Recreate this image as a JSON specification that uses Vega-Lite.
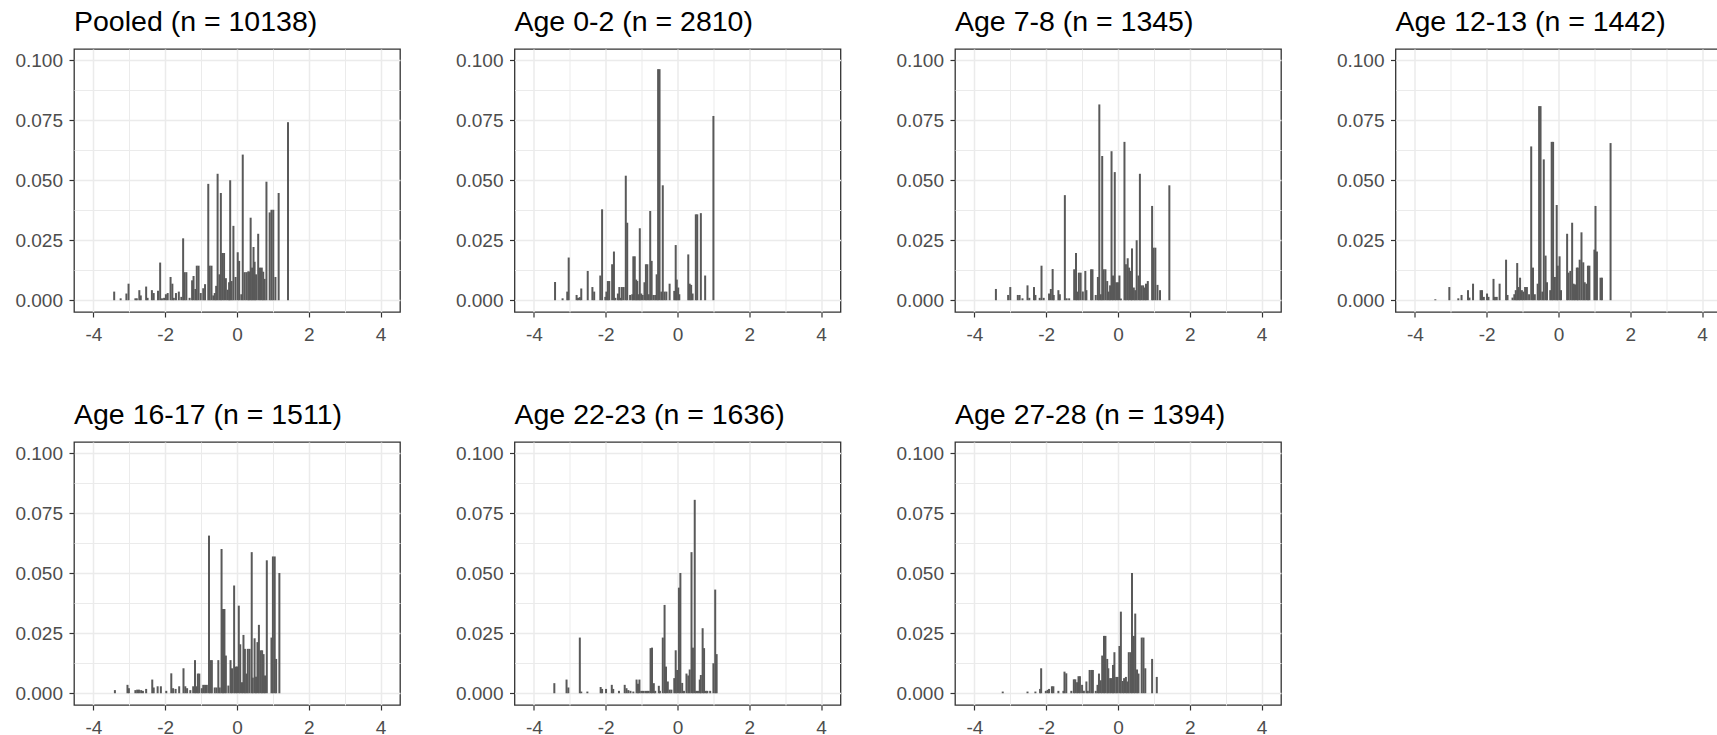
{
"$schema": "https://vega.github.io/schema/vega-lite/v6.json",
"background": "white",
"padding": {"left": 14, "top": 6, "right": 0, "bottom": 0},
"datasets": {
"panels": [
{"k":1,"title":"Pooled (n = 10138)"},{"k":2,"title":"Age 0-2 (n = 2810)"},{"k":3,"title":"Age 7-8 (n = 1345)"},{"k":4,"title":"Age 12-13 (n = 1442)"},{"k":5,"title":"Age 16-17 (n = 1511)"},{"k":6,"title":"Age 22-23 (n = 1636)"},{"k":7,"title":"Age 27-28 (n = 1394)"}
],
"bars": [
{"k":1,"x":-3.42,"y":0.0036},{"k":1,"x":-3.24,"y":0.0008},{"k":1,"x":-3.08,"y":0.0028},{"k":1,"x":-3.02,"y":0.0069},{"k":1,"x":-2.83,"y":0.0008},{"k":1,"x":-2.79,"y":0.0008},{"k":1,"x":-2.72,"y":0.0042},{"k":1,"x":-2.68,"y":0.002},{"k":1,"x":-2.53,"y":0.0057},{"k":1,"x":-2.49,"y":0.001},{"k":1,"x":-2.37,"y":0.0042},{"k":1,"x":-2.32,"y":0.003},{"k":1,"x":-2.2,"y":0.004},{"k":1,"x":-2.14,"y":0.0157},{"k":1,"x":-2.09,"y":0.0008},{"k":1,"x":-2.03,"y":0.001},{"k":1,"x":-1.98,"y":0.0025},{"k":1,"x":-1.93,"y":0.003},{"k":1,"x":-1.85,"y":0.0097},{"k":1,"x":-1.8,"y":0.0069},{"k":1,"x":-1.76,"y":0.001},{"k":1,"x":-1.7,"y":0.003},{"k":1,"x":-1.62,"y":0.0036},{"k":1,"x":-1.55,"y":0.0014},{"k":1,"x":-1.5,"y":0.0258},{"k":1,"x":-1.46,"y":0.0117},{"k":1,"x":-1.41,"y":0.0117},{"k":1,"x":-1.32,"y":0.001},{"k":1,"x":-1.25,"y":0.0083},{"k":1,"x":-1.21,"y":0.0101},{"k":1,"x":-1.16,"y":0.0047},{"k":1,"x":-1.12,"y":0.0144},{"k":1,"x":-1.07,"y":0.0144},{"k":1,"x":-1.01,"y":0.003},{"k":1,"x":-0.94,"y":0.005},{"k":1,"x":-0.89,"y":0.0067},{"k":1,"x":-0.8,"y":0.0485},{"k":1,"x":-0.76,"y":0.0144},{"k":1,"x":-0.71,"y":0.0144},{"k":1,"x":-0.66,"y":0.002},{"k":1,"x":-0.62,"y":0.003},{"k":1,"x":-0.58,"y":0.006},{"k":1,"x":-0.54,"y":0.0527},{"k":1,"x":-0.49,"y":0.0108},{"k":1,"x":-0.45,"y":0.0447},{"k":1,"x":-0.41,"y":0.0197},{"k":1,"x":-0.36,"y":0.0197},{"k":1,"x":-0.31,"y":0.0092},{"k":1,"x":-0.26,"y":0.0044},{"k":1,"x":-0.22,"y":0.0075},{"k":1,"x":-0.19,"y":0.05},{"k":1,"x":-0.15,"y":0.008},{"k":1,"x":-0.1,"y":0.031},{"k":1,"x":-0.04,"y":0.0097},{"k":1,"x":0.02,"y":0.02},{"k":1,"x":0.06,"y":0.0164},{"k":1,"x":0.12,"y":0.0025},{"k":1,"x":0.16,"y":0.0607},{"k":1,"x":0.21,"y":0.0117},{"k":1,"x":0.26,"y":0.0117},{"k":1,"x":0.31,"y":0.012},{"k":1,"x":0.34,"y":0.012},{"k":1,"x":0.38,"y":0.0344},{"k":1,"x":0.42,"y":0.0136},{"k":1,"x":0.46,"y":0.0222},{"k":1,"x":0.49,"y":0.016},{"k":1,"x":0.53,"y":0.0108},{"k":1,"x":0.59,"y":0.0277},{"k":1,"x":0.64,"y":0.0136},{"k":1,"x":0.69,"y":0.0136},{"k":1,"x":0.73,"y":0.0119},{"k":1,"x":0.77,"y":0.0089},{"k":1,"x":0.82,"y":0.0494},{"k":1,"x":0.91,"y":0.0366},{"k":1,"x":0.96,"y":0.0377},{"k":1,"x":1.01,"y":0.0377},{"k":1,"x":1.07,"y":0.0097},{"k":1,"x":1.16,"y":0.0447},{"k":1,"x":1.42,"y":0.0742},
{"k":2,"x":-3.41,"y":0.0076},{"k":2,"x":-3.2,"y":0.0008},{"k":2,"x":-3.07,"y":0.0036},{"k":2,"x":-3.03,"y":0.0178},{"k":2,"x":-2.81,"y":0.0022},{"k":2,"x":-2.77,"y":0.001},{"k":2,"x":-2.72,"y":0.0013},{"k":2,"x":-2.68,"y":0.0049},{"k":2,"x":-2.5,"y":0.0122},{"k":2,"x":-2.37,"y":0.0055},{"k":2,"x":-2.32,"y":0.0036},{"k":2,"x":-2.15,"y":0.0103},{"k":2,"x":-2.1,"y":0.0379},{"k":2,"x":-2.01,"y":0.0014},{"k":2,"x":-1.98,"y":0.0036},{"k":2,"x":-1.94,"y":0.008},{"k":2,"x":-1.9,"y":0.008},{"k":2,"x":-1.82,"y":0.015},{"k":2,"x":-1.77,"y":0.0203},{"k":2,"x":-1.73,"y":0.001},{"k":2,"x":-1.66,"y":0.0028},{"k":2,"x":-1.62,"y":0.0055},{"k":2,"x":-1.58,"y":0.001},{"k":2,"x":-1.55,"y":0.0055},{"k":2,"x":-1.5,"y":0.0055},{"k":2,"x":-1.44,"y":0.0519},{"k":2,"x":-1.4,"y":0.0323},{"k":2,"x":-1.32,"y":0.0022},{"k":2,"x":-1.26,"y":0.0025},{"k":2,"x":-1.23,"y":0.0183},{"k":2,"x":-1.19,"y":0.0183},{"k":2,"x":-1.15,"y":0.0086},{"k":2,"x":-1.12,"y":0.008},{"k":2,"x":-1.08,"y":0.0025},{"k":2,"x":-1.05,"y":0.03},{"k":2,"x":-1.01,"y":0.0028},{"k":2,"x":-0.97,"y":0.0022},{"k":2,"x":-0.92,"y":0.0075},{"k":2,"x":-0.88,"y":0.015},{"k":2,"x":-0.84,"y":0.015},{"k":2,"x":-0.8,"y":0.0025},{"k":2,"x":-0.76,"y":0.0372},{"k":2,"x":-0.72,"y":0.0164},{"k":2,"x":-0.67,"y":0.0022},{"k":2,"x":-0.62,"y":0.0022},{"k":2,"x":-0.58,"y":0.0108},{"k":2,"x":-0.54,"y":0.0963},{"k":2,"x":-0.5,"y":0.0963},{"k":2,"x":-0.45,"y":0.0036},{"k":2,"x":-0.41,"y":0.0479},{"k":2,"x":-0.36,"y":0.0036},{"k":2,"x":-0.31,"y":0.0036},{"k":2,"x":-0.22,"y":0.0069},{"k":2,"x":-0.09,"y":0.0039},{"k":2,"x":-0.05,"y":0.023},{"k":2,"x":-0.02,"y":0.0086},{"k":2,"x":0.02,"y":0.0053},{"k":2,"x":0.05,"y":0.0025},{"k":2,"x":0.3,"y":0.0191},{"k":2,"x":0.34,"y":0.0069},{"k":2,"x":0.38,"y":0.0064},{"k":2,"x":0.42,"y":0.0028},{"k":2,"x":0.51,"y":0.0358},{"k":2,"x":0.55,"y":0.0358},{"k":2,"x":0.65,"y":0.0363},{"k":2,"x":0.77,"y":0.0103},{"k":2,"x":1.0,"y":0.0768},
{"k":3,"x":-3.4,"y":0.0047},{"k":3,"x":-3.06,"y":0.0022},{"k":3,"x":-3.0,"y":0.0055},{"k":3,"x":-2.79,"y":0.0022},{"k":3,"x":-2.74,"y":0.0022},{"k":3,"x":-2.66,"y":0.0008},{"k":3,"x":-2.52,"y":0.0062},{"k":3,"x":-2.47,"y":0.001},{"k":3,"x":-2.34,"y":0.0055},{"k":3,"x":-2.3,"y":0.0022},{"k":3,"x":-2.18,"y":0.001},{"k":3,"x":-2.13,"y":0.0144},{"k":3,"x":-2.07,"y":0.001},{"k":3,"x":-1.92,"y":0.0028},{"k":3,"x":-1.87,"y":0.0047},{"k":3,"x":-1.82,"y":0.013},{"k":3,"x":-1.79,"y":0.0022},{"k":3,"x":-1.66,"y":0.0042},{"k":3,"x":-1.62,"y":0.0025},{"k":3,"x":-1.48,"y":0.0438},{"k":3,"x":-1.43,"y":0.0008},{"k":3,"x":-1.36,"y":0.0008},{"k":3,"x":-1.22,"y":0.0129},{"k":3,"x":-1.17,"y":0.0197},{"k":3,"x":-1.13,"y":0.0036},{"k":3,"x":-1.09,"y":0.0115},{"k":3,"x":-1.04,"y":0.0115},{"k":3,"x":-0.98,"y":0.0036},{"k":3,"x":-0.91,"y":0.0122},{"k":3,"x":-0.88,"y":0.0042},{"k":3,"x":-0.75,"y":0.0129},{"k":3,"x":-0.71,"y":0.0129},{"k":3,"x":-0.62,"y":0.0022},{"k":3,"x":-0.56,"y":0.0097},{"k":3,"x":-0.52,"y":0.0816},{"k":3,"x":-0.48,"y":0.0025},{"k":3,"x":-0.44,"y":0.0601},{"k":3,"x":-0.4,"y":0.0129},{"k":3,"x":-0.35,"y":0.0129},{"k":3,"x":-0.3,"y":0.008},{"k":3,"x":-0.26,"y":0.0036},{"k":3,"x":-0.22,"y":0.0062},{"k":3,"x":-0.18,"y":0.0621},{"k":3,"x":-0.14,"y":0.0103},{"k":3,"x":-0.09,"y":0.0534},{"k":3,"x":-0.05,"y":0.0075},{"k":3,"x":0.0,"y":0.0075},{"k":3,"x":0.04,"y":0.0103},{"k":3,"x":0.08,"y":0.0007},{"k":3,"x":0.18,"y":0.066},{"k":3,"x":0.22,"y":0.015},{"k":3,"x":0.27,"y":0.0175},{"k":3,"x":0.31,"y":0.0136},{"k":3,"x":0.36,"y":0.0122},{"k":3,"x":0.39,"y":0.0216},{"k":3,"x":0.44,"y":0.0053},{"k":3,"x":0.48,"y":0.0042},{"k":3,"x":0.52,"y":0.025},{"k":3,"x":0.57,"y":0.0103},{"k":3,"x":0.61,"y":0.0527},{"k":3,"x":0.65,"y":0.0062},{"k":3,"x":0.7,"y":0.0062},{"k":3,"x":0.74,"y":0.0053},{"k":3,"x":0.78,"y":0.0069},{"k":3,"x":0.83,"y":0.008},{"k":3,"x":0.95,"y":0.0393},{"k":3,"x":0.99,"y":0.0219},{"k":3,"x":1.04,"y":0.0219},{"k":3,"x":1.1,"y":0.0064},{"k":3,"x":1.17,"y":0.0042},{"k":3,"x":1.43,"y":0.0479},
{"k":4,"x":-3.43,"y":0.0004},{"k":4,"x":-3.04,"y":0.0055},{"k":4,"x":-2.79,"y":0.0008},{"k":4,"x":-2.7,"y":0.0022},{"k":4,"x":-2.52,"y":0.0042},{"k":4,"x":-2.48,"y":0.0011},{"k":4,"x":-2.38,"y":0.0069},{"k":4,"x":-2.17,"y":0.0042},{"k":4,"x":-2.13,"y":0.0042},{"k":4,"x":-2.08,"y":0.0014},{"k":4,"x":-1.99,"y":0.0028},{"k":4,"x":-1.95,"y":0.0014},{"k":4,"x":-1.81,"y":0.0089},{"k":4,"x":-1.77,"y":0.0014},{"k":4,"x":-1.72,"y":0.0014},{"k":4,"x":-1.64,"y":0.0069},{"k":4,"x":-1.46,"y":0.0169},{"k":4,"x":-1.42,"y":0.0022},{"k":4,"x":-1.28,"y":0.0011},{"k":4,"x":-1.23,"y":0.0025},{"k":4,"x":-1.19,"y":0.0042},{"k":4,"x":-1.15,"y":0.0155},{"k":4,"x":-1.11,"y":0.0055},{"k":4,"x":-1.07,"y":0.0094},{"k":4,"x":-1.02,"y":0.0042},{"k":4,"x":-0.98,"y":0.0036},{"k":4,"x":-0.93,"y":0.0055},{"k":4,"x":-0.88,"y":0.0055},{"k":4,"x":-0.82,"y":0.0025},{"k":4,"x":-0.76,"y":0.0641},{"k":4,"x":-0.71,"y":0.0136},{"k":4,"x":-0.66,"y":0.0025},{"k":4,"x":-0.58,"y":0.0069},{"k":4,"x":-0.54,"y":0.0809},{"k":4,"x":-0.5,"y":0.0809},{"k":4,"x":-0.45,"y":0.0036},{"k":4,"x":-0.41,"y":0.0587},{"k":4,"x":-0.36,"y":0.0186},{"k":4,"x":-0.32,"y":0.0075},{"k":4,"x":-0.23,"y":0.0042},{"k":4,"x":-0.19,"y":0.066},{"k":4,"x":-0.15,"y":0.066},{"k":4,"x":-0.1,"y":0.0097},{"k":4,"x":-0.05,"y":0.0397},{"k":4,"x":-0.02,"y":0.0144},{"k":4,"x":0.03,"y":0.0183},{"k":4,"x":0.07,"y":0.0042},{"k":4,"x":0.24,"y":0.0277},{"k":4,"x":0.28,"y":0.0115},{"k":4,"x":0.33,"y":0.0122},{"k":4,"x":0.38,"y":0.0323},{"k":4,"x":0.42,"y":0.0069},{"k":4,"x":0.46,"y":0.0066},{"k":4,"x":0.51,"y":0.0136},{"k":4,"x":0.54,"y":0.0136},{"k":4,"x":0.59,"y":0.0169},{"k":4,"x":0.64,"y":0.0283},{"k":4,"x":0.69,"y":0.0158},{"k":4,"x":0.73,"y":0.0075},{"k":4,"x":0.78,"y":0.0069},{"k":4,"x":0.82,"y":0.0144},{"k":4,"x":0.86,"y":0.0144},{"k":4,"x":1.0,"y":0.0211},{"k":4,"x":1.03,"y":0.0393},{"k":4,"x":1.07,"y":0.0203},{"k":4,"x":1.17,"y":0.0094},{"k":4,"x":1.21,"y":0.0094},{"k":4,"x":1.45,"y":0.0655},
{"k":5,"x":-3.4,"y":0.0013},{"k":5,"x":-3.05,"y":0.0035},{"k":5,"x":-3.01,"y":0.0021},{"k":5,"x":-2.83,"y":0.0013},{"k":5,"x":-2.78,"y":0.0015},{"k":5,"x":-2.73,"y":0.0015},{"k":5,"x":-2.67,"y":0.0013},{"k":5,"x":-2.62,"y":0.001},{"k":5,"x":-2.53,"y":0.0018},{"k":5,"x":-2.36,"y":0.0057},{"k":5,"x":-2.32,"y":0.0024},{"k":5,"x":-2.21,"y":0.0029},{"k":5,"x":-2.12,"y":0.0029},{"k":5,"x":-1.97,"y":0.001},{"k":5,"x":-1.83,"y":0.0083},{"k":5,"x":-1.78,"y":0.0021},{"k":5,"x":-1.71,"y":0.0018},{"k":5,"x":-1.61,"y":0.0029},{"k":5,"x":-1.49,"y":0.0104},{"k":5,"x":-1.44,"y":0.0029},{"k":5,"x":-1.39,"y":0.0021},{"k":5,"x":-1.3,"y":0.0013},{"k":5,"x":-1.22,"y":0.0029},{"k":5,"x":-1.17,"y":0.0138},{"k":5,"x":-1.13,"y":0.0029},{"k":5,"x":-1.09,"y":0.0082},{"k":5,"x":-1.05,"y":0.0082},{"k":5,"x":-0.98,"y":0.0021},{"k":5,"x":-0.94,"y":0.0035},{"k":5,"x":-0.89,"y":0.0035},{"k":5,"x":-0.84,"y":0.0035},{"k":5,"x":-0.78,"y":0.0657},{"k":5,"x":-0.74,"y":0.0138},{"k":5,"x":-0.7,"y":0.0138},{"k":5,"x":-0.62,"y":0.0024},{"k":5,"x":-0.57,"y":0.0024},{"k":5,"x":-0.52,"y":0.0138},{"k":5,"x":-0.48,"y":0.0024},{"k":5,"x":-0.43,"y":0.0601},{"k":5,"x":-0.39,"y":0.0351},{"k":5,"x":-0.35,"y":0.0351},{"k":5,"x":-0.31,"y":0.0157},{"k":5,"x":-0.24,"y":0.0032},{"k":5,"x":-0.18,"y":0.0138},{"k":5,"x":-0.14,"y":0.0104},{"k":5,"x":-0.08,"y":0.0449},{"k":5,"x":-0.04,"y":0.0111},{"k":5,"x":0.0,"y":0.0111},{"k":5,"x":0.05,"y":0.0365},{"k":5,"x":0.09,"y":0.0204},{"k":5,"x":0.14,"y":0.0046},{"k":5,"x":0.18,"y":0.0243},{"k":5,"x":0.22,"y":0.0185},{"k":5,"x":0.26,"y":0.0082},{"k":5,"x":0.3,"y":0.0185},{"k":5,"x":0.35,"y":0.0185},{"k":5,"x":0.41,"y":0.0588},{"k":5,"x":0.44,"y":0.0065},{"k":5,"x":0.49,"y":0.0229},{"k":5,"x":0.53,"y":0.0069},{"k":5,"x":0.57,"y":0.0213},{"k":5,"x":0.61,"y":0.0285},{"k":5,"x":0.66,"y":0.0179},{"k":5,"x":0.7,"y":0.0179},{"k":5,"x":0.74,"y":0.0163},{"k":5,"x":0.78,"y":0.0074},{"k":5,"x":0.83,"y":0.0554},{"k":5,"x":0.96,"y":0.0232},{"k":5,"x":1.0,"y":0.057},{"k":5,"x":1.05,"y":0.057},{"k":5,"x":1.09,"y":0.0143},{"k":5,"x":1.18,"y":0.0501},
{"k":6,"x":-3.43,"y":0.0042},{"k":6,"x":-3.09,"y":0.0057},{"k":6,"x":-3.04,"y":0.0024},{"k":6,"x":-2.72,"y":0.0232},{"k":6,"x":-2.68,"y":0.0007},{"k":6,"x":-2.51,"y":0.0007},{"k":6,"x":-2.14,"y":0.0026},{"k":6,"x":-2.1,"y":0.0018},{"k":6,"x":-1.99,"y":0.0018},{"k":6,"x":-1.83,"y":0.0035},{"k":6,"x":-1.79,"y":0.0018},{"k":6,"x":-1.63,"y":0.001},{"k":6,"x":-1.47,"y":0.0035},{"k":6,"x":-1.42,"y":0.0021},{"k":6,"x":-1.37,"y":0.0013},{"k":6,"x":-1.31,"y":0.001},{"k":6,"x":-1.23,"y":0.0007},{"k":6,"x":-1.14,"y":0.0057},{"k":6,"x":-1.1,"y":0.004},{"k":6,"x":-1.06,"y":0.0057},{"k":6,"x":-1.01,"y":0.001},{"k":6,"x":-0.96,"y":0.001},{"k":6,"x":-0.9,"y":0.001},{"k":6,"x":-0.85,"y":0.001},{"k":6,"x":-0.8,"y":0.001},{"k":6,"x":-0.75,"y":0.0188},{"k":6,"x":-0.71,"y":0.019},{"k":6,"x":-0.66,"y":0.0042},{"k":6,"x":-0.62,"y":0.001},{"k":6,"x":-0.52,"y":0.0031},{"k":6,"x":-0.49,"y":0.001},{"k":6,"x":-0.41,"y":0.0232},{"k":6,"x":-0.36,"y":0.0368},{"k":6,"x":-0.32,"y":0.0111},{"k":6,"x":-0.27,"y":0.0049},{"k":6,"x":-0.22,"y":0.0015},{"k":6,"x":-0.17,"y":0.0015},{"k":6,"x":-0.09,"y":0.0063},{"k":6,"x":-0.05,"y":0.0179},{"k":6,"x":-0.01,"y":0.0097},{"k":6,"x":0.04,"y":0.044},{"k":6,"x":0.08,"y":0.0501},{"k":6,"x":0.13,"y":0.0043},{"k":6,"x":0.18,"y":0.001},{"k":6,"x":0.25,"y":0.0082},{"k":6,"x":0.3,"y":0.0074},{"k":6,"x":0.34,"y":0.0099},{"k":6,"x":0.39,"y":0.0588},{"k":6,"x":0.43,"y":0.019},{"k":6,"x":0.48,"y":0.0806},{"k":6,"x":0.52,"y":0.001},{"k":6,"x":0.57,"y":0.001},{"k":6,"x":0.62,"y":0.0057},{"k":6,"x":0.65,"y":0.0076},{"k":6,"x":0.7,"y":0.0271},{"k":6,"x":0.74,"y":0.0188},{"k":6,"x":0.79,"y":0.001},{"k":6,"x":0.83,"y":0.001},{"k":6,"x":0.91,"y":0.001},{"k":6,"x":1.0,"y":0.0125},{"k":6,"x":1.05,"y":0.0432},{"k":6,"x":1.09,"y":0.0163},
{"k":7,"x":-3.21,"y":0.0007},{"k":7,"x":-2.52,"y":0.0007},{"k":7,"x":-2.3,"y":0.0007},{"k":7,"x":-2.17,"y":0.0018},{"k":7,"x":-2.14,"y":0.0104},{"k":7,"x":-2.01,"y":0.001},{"k":7,"x":-1.96,"y":0.0014},{"k":7,"x":-1.92,"y":0.0018},{"k":7,"x":-1.84,"y":0.0029},{"k":7,"x":-1.8,"y":0.0029},{"k":7,"x":-1.66,"y":0.001},{"k":7,"x":-1.52,"y":0.001},{"k":7,"x":-1.49,"y":0.009},{"k":7,"x":-1.44,"y":0.0083},{"k":7,"x":-1.3,"y":0.001},{"k":7,"x":-1.23,"y":0.0058},{"k":7,"x":-1.19,"y":0.0058},{"k":7,"x":-1.14,"y":0.0046},{"k":7,"x":-1.1,"y":0.0071},{"k":7,"x":-1.06,"y":0.0071},{"k":7,"x":-1.0,"y":0.0035},{"k":7,"x":-0.95,"y":0.001},{"k":7,"x":-0.88,"y":0.0049},{"k":7,"x":-0.84,"y":0.001},{"k":7,"x":-0.79,"y":0.0097},{"k":7,"x":-0.74,"y":0.0097},{"k":7,"x":-0.7,"y":0.0097},{"k":7,"x":-0.62,"y":0.001},{"k":7,"x":-0.57,"y":0.0035},{"k":7,"x":-0.53,"y":0.0082},{"k":7,"x":-0.48,"y":0.0054},{"k":7,"x":-0.44,"y":0.0157},{"k":7,"x":-0.39,"y":0.0239},{"k":7,"x":-0.35,"y":0.0239},{"k":7,"x":-0.3,"y":0.0143},{"k":7,"x":-0.27,"y":0.0104},{"k":7,"x":-0.22,"y":0.0063},{"k":7,"x":-0.18,"y":0.0063},{"k":7,"x":-0.14,"y":0.0118},{"k":7,"x":-0.1,"y":0.0171},{"k":7,"x":-0.05,"y":0.0068},{"k":7,"x":-0.01,"y":0.0068},{"k":7,"x":0.04,"y":0.0197},{"k":7,"x":0.08,"y":0.034},{"k":7,"x":0.13,"y":0.0051},{"k":7,"x":0.17,"y":0.0063},{"k":7,"x":0.22,"y":0.0068},{"k":7,"x":0.26,"y":0.0049},{"k":7,"x":0.3,"y":0.0171},{"k":7,"x":0.35,"y":0.0171},{"k":7,"x":0.39,"y":0.0501},{"k":7,"x":0.44,"y":0.0239},{"k":7,"x":0.48,"y":0.0332},{"k":7,"x":0.53,"y":0.0099},{"k":7,"x":0.57,"y":0.0082},{"k":7,"x":0.66,"y":0.0232},{"k":7,"x":0.71,"y":0.0232},{"k":7,"x":0.76,"y":0.0104},{"k":7,"x":0.95,"y":0.0143},{"k":7,"x":1.08,"y":0.0068}
]
},
"data": {"name": "bars"},
"transform": [{"lookup": "k", "from": {"data": {"name": "panels"}, "key": "k", "fields": ["title"]}}],
"facet": {"field": "title", "type": "nominal", "sort": ["Pooled (n = 10138)","Age 0-2 (n = 2810)","Age 7-8 (n = 1345)","Age 12-13 (n = 1442)","Age 16-17 (n = 1511)","Age 22-23 (n = 1636)","Age 27-28 (n = 1394)"], "header": {"title": null}},
"columns": 4,
"spacing": {"column": 53.5, "row": 54},
"resolve": {"axis": {"x": "independent", "y": "independent"}},
"spec": {
"width": 326,
"height": 263,
"mark": {"type": "bar", "size": 2, "color": "#595959"},
"encoding": {
"x": {"field": "x", "type": "quantitative", "title": null,
 "scale": {"domain": [-4.4, 4.4], "nice": false, "zero": false},
 "axis": {"values": [-4,-3,-2,-1,0,1,2,3,4], "labelPadding": 8, "labelExpr": "datum.value % 2 === 0 ? '' + datum.value : ''",
  "tickOpacity": {"condition": {"test": "datum.value % 2 !== 0", "value": 0}, "value": 1},
  "gridWidth": {"condition": {"test": "datum.value % 2 !== 0", "value": 1}, "value": 1.5}}},
"y": {"field": "y", "type": "quantitative", "title": null,
 "scale": {"domain": [-0.0049, 0.1047], "nice": false, "zero": false},
 "axis": {"values": [0,0.0125,0.025,0.0375,0.05,0.0625,0.075,0.0875,0.1], "labelPadding": 6.5, "labelExpr": "round(datum.value*10000) % 250 === 0 ? format(datum.value, '.3f') : ''",
  "tickOpacity": {"condition": {"test": "round(datum.value*10000) % 250 !== 0", "value": 0}, "value": 1},
  "gridWidth": {"condition": {"test": "round(datum.value*10000) % 250 !== 0", "value": 1}, "value": 1.5}}},
"y2": {"datum": 0}
}
},
"config": {
"view": {"stroke": "#333333", "strokeWidth": 1.3},
"font": "Liberation Sans",
"axis": {"domain": false, "grid": true, "gridColor": "#EBEBEB", "tickColor": "#333333", "tickSize": 5, "tickWidth": 1.2, "labelColor": "#4D4D4D", "labelFont": "Liberation Sans", "labelFontSize": 19, "labelFlush": false, "labelOverlap": false},
"header": {"labelFont": "Liberation Sans", "labelFontSize": 28.5, "labelColor": "black", "labelAnchor": "start", "labelAlign": "left", "labelPadding": 13}
}
}
